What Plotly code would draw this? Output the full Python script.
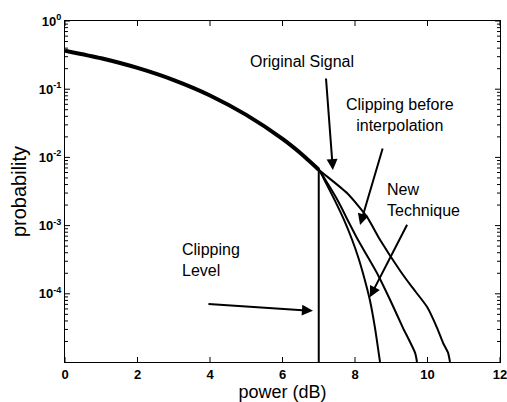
import plotly.graph_objects as go

# Shared part of all curves (they coincide up to ~7 dB)
shared_x = [0, 1, 2, 3, 4, 5, 6, 6.5, 7.0]
shared_p = [0.368, 0.284, 0.205, 0.136, 0.081, 0.042, 0.0187, 0.0115, 0.0066]

# Original signal tail
orig_x = [7.78, 8.33, 8.69, 9.24, 9.57, 9.99, 10.26, 10.43, 10.57, 10.62]
orig_p = [3.0e-3, 1.34e-3, 6.2e-4, 2.2e-4, 1.26e-4, 6.4e-5, 3.2e-5, 1.9e-5, 1.35e-5, 1.0e-5]

# Clipping before interpolation tail
cbi_x = [7.25, 7.55, 7.8, 8.08, 8.35, 8.61, 8.97, 9.32, 9.66, 9.71]
cbi_p = [4.1e-3, 2.2e-3, 1.2e-3, 6.2e-4, 3.5e-4, 2.0e-4, 8.1e-5, 3.2e-5, 1.35e-5, 1.0e-5]

# New technique tail
new_x = [7.2, 7.45, 7.7, 7.92, 8.1, 8.22, 8.41, 8.55, 8.69]
new_p = [4.2e-3, 2.3e-3, 1.2e-3, 6.2e-4, 3.3e-4, 2.0e-4, 8.1e-5, 3.2e-5, 1.0e-5]

# Clipping level (vertical)
clip_x = [7.0, 7.0]
clip_p = [0.0066, 1.0e-5]

x_range = [0, 12]
y_range = [-5, 0]  # log10
x_ticks = [0, 2, 4, 6, 8, 10, 12]
y_ticks = [1, 1e-1, 1e-2, 1e-3, 1e-4]
y_ticktext = ["10<sup>0</sup>", "10<sup>-1</sup>", "10<sup>-2</sup>", "10<sup>-3</sup>", "10<sup>-4</sup>"]
y_minor = [m * 10.0 ** e for e in range(-5, 0) for m in range(2, 10)]

W, H = 507, 402
M = dict(l=65, r=7, t=21, b=40)
plot_w = W - M["l"] - M["r"]
plot_h = H - M["t"] - M["b"]
dx_per_px = (x_range[1] - x_range[0]) / plot_w
dlog_per_px = (y_range[1] - y_range[0]) / plot_h

fig = go.Figure()
fig.add_trace(go.Scatter(x=shared_x, y=shared_p, mode="lines",
                         line=dict(color="black", width=4, shape="spline", smoothing=0.6)))
for xs, ps in [(orig_x, orig_p), (cbi_x, cbi_p), (new_x, new_p)]:
    fig.add_trace(go.Scatter(x=shared_x[-3:] + xs, y=shared_p[-3:] + ps, mode="lines",
                             line=dict(color="black", width=2, shape="spline", smoothing=0.6)))
fig.add_trace(go.Scatter(x=clip_x, y=clip_p, mode="lines", line=dict(color="black", width=2)))

# Inside tick marks on all four sides, derived from the tick arrays and axis ranges
tx, ty = [], []
ylo, yhi = 10 ** y_range[0], 10 ** y_range[1]
for v in x_ticks:
    tx += [v, v, None, v, v, None]
    ty += [ylo, 10 ** (y_range[0] + 5 * dlog_per_px), None,
           yhi, 10 ** (y_range[1] - 5 * dlog_per_px), None]
for vals, ln in [(y_ticks, 5), (y_minor, 3)]:
    for v in vals:
        if v <= ylo or v > yhi:
            continue
        tx += [x_range[0], x_range[0] + ln * dx_per_px, None,
               x_range[1], x_range[1] - ln * dx_per_px, None]
        ty += [v, v, None, v, v, None]
fig.add_trace(go.Scatter(x=tx, y=ty, mode="lines", line=dict(color="black", width=1),
                         cliponaxis=False, hoverinfo="skip"))

fam = "Liberation Sans, Arial, sans-serif"
font = dict(family=fam, size=16, color="black")

annots = [
    dict(x=6.54, y=-0.60, text="Original Signal", showarrow=False, xanchor="center"),
    dict(x=9.24, y=-1.378, text="Clipping before<br>interpolation", showarrow=False, xanchor="center"),
    dict(x=8.83, y=-2.62, text="New<br>Technique", showarrow=False, xanchor="left", align="left"),
    dict(x=3.17, y=-3.50, text="Clipping<br>Level", showarrow=False, xanchor="left", align="left"),
    dict(x=7.39, y=-2.185, ax=-7, ay=-93, text="", showarrow=True),
    dict(x=8.14, y=-2.99, ax=23, ay=-78, text="", showarrow=True),
    dict(x=8.41, y=-4.05, ax=38, ay=-74, text="", showarrow=True),
    dict(x=6.84, y=-4.25, ax=-106, ay=-7, text="", showarrow=True),
]
for a in annots:
    a.update(xref="x", yref="y", font=font)
    if a["showarrow"]:
        a.update(arrowhead=2, arrowsize=1.1, arrowwidth=2, arrowcolor="black")
    fig.add_annotation(**a)

tickfont = dict(family=fam, size=13, color="black", weight="bold")

fig.update_layout(
    template="simple_white",
    width=W, height=H,
    margin=dict(**M, autoexpand=False),
    paper_bgcolor="white", plot_bgcolor="white",
    showlegend=False,
    font=font,
)
fig.update_xaxes(range=x_range, tickmode="array", tickvals=x_ticks, ticks="",
                 showline=True, linecolor="black", linewidth=1, mirror=True,
                 showgrid=False, zeroline=False, tickfont=tickfont, ticklabeloverflow="allow",
                 title=dict(text="power (dB)", font=dict(family=fam, size=18), standoff=8))
fig.update_yaxes(type="log", range=y_range, tickmode="array", tickvals=y_ticks, ticktext=y_ticktext,
                 ticks="", showline=True, linecolor="black", linewidth=1, mirror=True,
                 showgrid=False, zeroline=False, tickfont=tickfont, ticklabeloverflow="allow",
                 title=dict(text="probability", font=dict(family=fam, size=20), standoff=6))

fig.write_html("out.html", config={"displayModeBar": False},
               post_script="document.body.style.margin='0';document.body.style.padding='0';")
